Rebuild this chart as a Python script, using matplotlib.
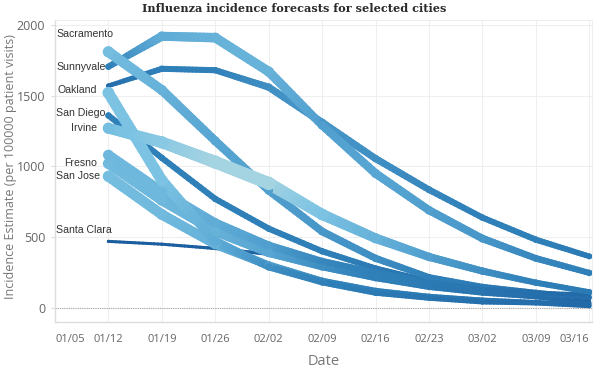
import numpy as np
import matplotlib
matplotlib.use("Agg")
import matplotlib.pyplot as plt
from matplotlib.collections import LineCollection
from matplotlib.colors import LinearSegmentedColormap

# ---------------- data ----------------
tick_labels = ["01/05", "01/12", "01/19", "01/26", "02/02", "02/09",
               "02/16", "02/23", "03/02", "03/09", "03/16"]
dates = ["01/12", "01/19", "01/26", "02/02", "02/09",
         "02/16", "02/23", "03/02", "03/09", "03/16"]

cities = ["Sacramento", "Sunnyvale", "Oakland", "", "San Diego",
          "Irvine", "", "Fresno", "San Jose", "Santa Clara"]

sacramento = [1810, 1540, 1180, 830, 540, 350, 217, 150, 110, 75]
sunnyvale = [1705, 1920, 1910, 1670, 1290, 950, 690, 490, 350, 247]
oakland = [1570, 1690, 1680, 1560, 1310, 1055, 835, 638, 482, 364]
unlabeled_a = [1520, 900, 470, 290, 180, 105, 68, 40, 33, 12]
san_diego = [1360, 1060, 770, 560, 400, 280, 190, 138, 104, 68]
irvine = [1270, 1170, 1030, 880, 660, 492, 360, 260, 178, 112]
unlabeled_b = [1080, 820, 600, 440, 330, 250, 180, 130, 104, 95]
fresno = [1020, 760, 540, 390, 290, 210, 146, 104, 76, 32]
san_jose = [930, 660, 450, 300, 190, 120, 80, 55, 40, 22]
santa_clara = [470, 450, 420, 380, 300, 210, 146, 104, 76, 45]

series = [sacramento, sunnyvale, oakland, unlabeled_a, san_diego,
          irvine, unlabeled_b, fresno, san_jose, santa_clara]

# per-point uncertainty (drives line width and lightness)
u_sacramento = [0.75, 0.65, 0.55, 0.5, 0.45, 0.4, 0.3, 0.25, 0.2, 0.15]
u_sunnyvale = [0.3, 0.6, 0.65, 0.65, 0.5, 0.55, 0.5, 0.45, 0.35, 0.3]
u_oakland = [0.15, 0.3, 0.3, 0.4, 0.45, 0.4, 0.35, 0.3, 0.3, 0.25]
u_unlabeled_a = [0.8, 0.8, 0.6, 0.4, 0.3, 0.25, 0.2, 0.15, 0.15, 0.1]
u_san_diego = [0.3, 0.3, 0.3, 0.3, 0.3, 0.25, 0.2, 0.2, 0.15, 0.1]
u_irvine = [0.75, 0.85, 0.95, 0.95, 0.8, 0.65, 0.5, 0.4, 0.3, 0.25]
u_unlabeled_b = [0.7, 0.7, 0.6, 0.5, 0.35, 0.3, 0.25, 0.2, 0.15, 0.1]
u_fresno = [0.72, 0.7, 0.65, 0.55, 0.4, 0.3, 0.25, 0.2, 0.15, 0.1]
u_san_jose = [0.75, 0.72, 0.65, 0.5, 0.35, 0.3, 0.25, 0.2, 0.15, 0.1]
u_santa_clara = [0.0, 0.0, 0.02, 0.05, 0.08, 0.08, 0.05, 0.05, 0.05, 0.05]

uncert = [u_sacramento, u_sunnyvale, u_oakland, u_unlabeled_a, u_san_diego,
          u_irvine, u_unlabeled_b, u_fresno, u_san_jose, u_santa_clara]

yticks = [0, 500, 1000, 1500, 2000]

# ---------------- style ----------------
cmap = LinearSegmentedColormap.from_list(
    "flu", [(0.0, "#1b5e9f"), (0.3, "#2f80b9"), (0.55, "#58a6d3"),
            (0.8, "#7cc3e3"), (1.0, "#b0d8e2")])
label_dy_pt = [12.5, 0, -3, 0, 1.5, 0.5, 0, 0.5, 0, 8.5]

fig = plt.figure(figsize=(5.96, 3.73), dpi=100)
ax = fig.add_axes([55 / 596, 1 - 322 / 373, (592 - 55) / 596, (322 - 20) / 373])

xpos = np.array([tick_labels.index(d) - 1 for d in dates], dtype=float)
px2pt = 72 / 100

draw_order = [9, 4, 2, 1, 0, 8, 7, 6, 3, 5]
for k in draw_order:
    ys = np.array(series[k], dtype=float)
    us = np.array(uncert[k], dtype=float)
    segs, widths, colors = [], [], []
    n = 14
    for i in range(len(xpos) - 1):
        ts = np.linspace(0, 1, n + 1)
        xs = xpos[i] + (xpos[i + 1] - xpos[i]) * ts
        yy = ys[i] + (ys[i + 1] - ys[i]) * ts
        uu = us[i] + (us[i + 1] - us[i]) * ts
        for j in range(n):
            segs.append([(xs[j], yy[j]), (xs[j + 1], yy[j + 1])])
            um = 0.5 * (uu[j] + uu[j + 1])
            widths.append((3.0 + 10.0 * um) * px2pt)
            colors.append(cmap(um))
    lc = LineCollection(segs, linewidths=widths, colors=colors,
                        capstyle="round", joinstyle="round", zorder=3)
    ax.add_collection(lc)
    ax.scatter(xpos, ys, s=[((3.0 + 10.0 * u) * px2pt * 1.08) ** 2 for u in us],
               c=[cmap(u) for u in us], linewidths=0, zorder=3.1)

ax.set_xlim(-0.97, 9.05)
ax.set_ylim(-100, 2035)

ax.set_xticks(range(-1, 10))
ax.set_xticklabels(tick_labels)
ax.set_yticks(yticks)
ax.set_yticklabels([str(v) for v in yticks])
for lab in ax.get_xticklabels():
    lab.set_fontfamily("Open Sans")
    lab.set_fontsize(8)
    lab.set_color("#666666")
ax.get_xticklabels()[0].set_ha("left")
ax.get_xticklabels()[-1].set_ha("right")
for lab in ax.get_yticklabels():
    lab.set_fontfamily("Open Sans")
    lab.set_fontsize(9)
    lab.set_color("#666666")
ax.tick_params(axis="x", length=0, pad=9)
ax.tick_params(axis="y", length=3, color="#dddddd", pad=4)

ax.grid(True, color="#efefef", linewidth=0.8, zorder=0)
ax.set_axisbelow(True)
for s in ["top", "right"]:
    ax.spines[s].set_color("#eeeeee")
    ax.spines[s].set_linewidth(0.8)
for s in ["left", "bottom"]:
    ax.spines[s].set_color("#dddddd")
    ax.spines[s].set_linewidth(1.0)
ax.axhline(0, color="#aaaaaa", linestyle=(0, (1, 1)), linewidth=0.8, zorder=1)

ax.set_ylabel("Incidence Estimate (per 100000 patient visits)",
              fontfamily="Open Sans", fontsize=9, color="#777777")
ax.yaxis.set_label_coords((17 - 55) / 537, 0.515)
ax.set_xlabel("Date", fontfamily="Open Sans", fontsize=10.5, color="#777777",
              labelpad=6)

fig.text(294 / 596, 1 - 9 / 373, "Influenza incidence forecasts for selected cities",
         ha="center", va="center", fontfamily="DejaVu Serif", fontweight="bold",
         fontsize=8.1, color="#2a2a2a")

# city labels: right-aligned left of the first point, pushed inside the axes
fig.canvas.draw()
renderer = fig.canvas.get_renderer()
ax_left_px = ax.get_window_extent(renderer).x0
for k, name in enumerate(cities):
    if not name:
        continue
    t = ax.annotate(name, xy=(xpos[0], series[k][0]), xytext=(-8, label_dy_pt[k]),
                    textcoords="offset points", ha="right", va="center",
                    fontfamily="Liberation Sans", fontsize=7.6, color="#333333",
                    zorder=5)
    bb = t.get_window_extent(renderer)
    if bb.x0 < ax_left_px + 1:
        shift = (ax_left_px + 1 - bb.x0) * 72 / fig.dpi
        t.set_position((-8 + shift, label_dy_pt[k]))

fig.savefig("out.png", dpi=100)
